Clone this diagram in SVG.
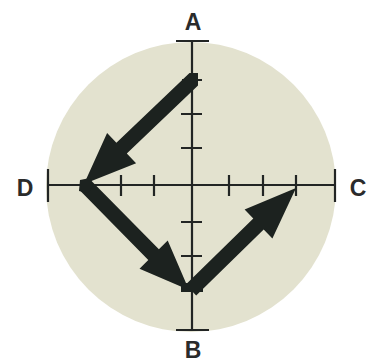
<svg xmlns="http://www.w3.org/2000/svg" width="368" height="363" viewBox="0 0 368 363">
<style>
.ax{stroke:#222524;stroke-width:2.2;fill:none}
.arr{fill:#1c221f}
.lbl{font-family:"Liberation Sans",Arial,sans-serif;font-weight:bold;font-size:23px;fill:#2a2b2b;text-anchor:middle}
</style>
<rect width="368" height="363" fill="#ffffff"/>
<circle id="dial" cx="191" cy="187" r="145" fill="#e3e2cf"/>
<g id="axes" class="ax">
<line x1="192" y1="41" x2="192" y2="330"/>
<line x1="48" y1="185" x2="335" y2="185"/>
<line x1="176" y1="41" x2="209" y2="41"/>
<line x1="176" y1="330" x2="209" y2="330"/>
<line x1="48" y1="169" x2="48" y2="202"/>
<line x1="335" y1="169" x2="335" y2="202"/>
<path d="M121 175V196M154 175V196M229 175V196M263 175V196M296 175V196"/>
<path d="M182 80H202M181 114H202M181 148H202M181 222H202M181 256H202M181 290H202"/>
</g>
<g id="connectors" class="arr">
<polygon id="a-to-d" points="84,184 107.1,132.9 116.4,142.7 189.5,73 198,73 198,85.6 126.8,153.5 136.1,163.3"/>
<polygon id="d-to-b" points="79.7,190.3 90.3,179.7 158.9,249.3 167.7,240.5 189,290 139.5,268.7 148.3,259.9"/>
<polygon id="b-to-c" points="185.8,284.6 253.3,218.6 244.6,209.6 296,188 272.4,238.4 263.7,229.4 196.2,295.4"/>
<path d="M80,180 L90,178 L93,186 L88,193 L79,191 Z"/>
<rect x="181" y="283" width="22" height="9"/>
</g>
<g id="node-A"><text class="lbl" x="193" y="30">A</text></g>
<g id="node-B"><text class="lbl" x="193" y="358">B</text></g>
<g id="node-C"><text class="lbl" x="358" y="196">C</text></g>
<g id="node-D"><text class="lbl" x="25" y="196">D</text></g>
</svg>
